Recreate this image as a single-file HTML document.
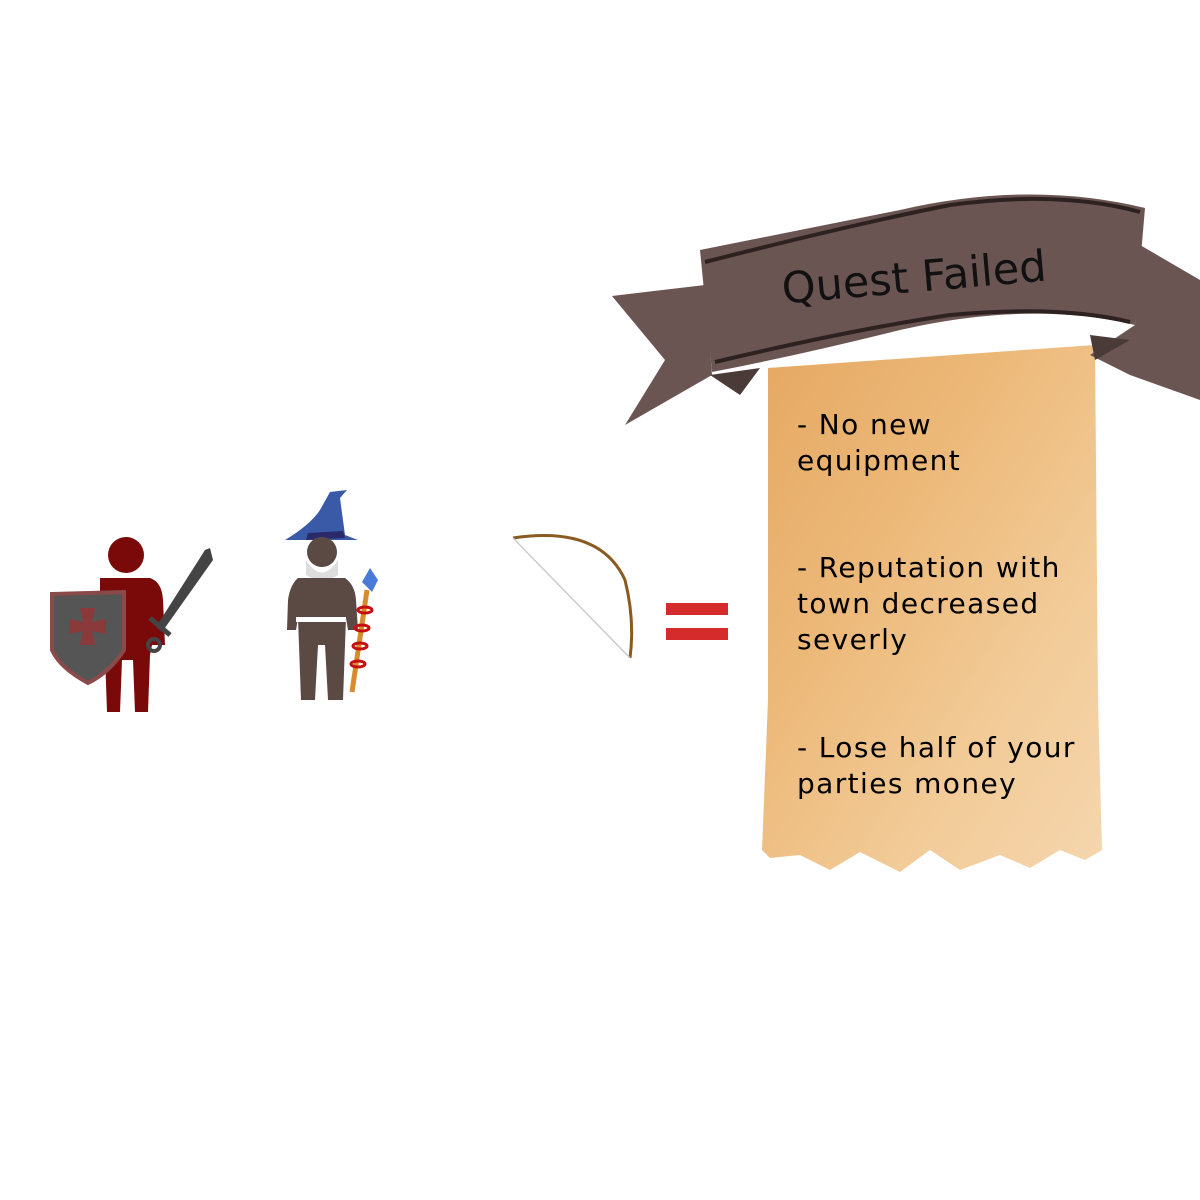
<!DOCTYPE html>
<html><head><meta charset="utf-8"><style>
html,body{margin:0;padding:0;background:#fff;width:1200px;height:1200px;overflow:hidden}
svg{position:absolute;left:0;top:0}
.t{font-family:"DejaVu Sans","Liberation Sans",sans-serif;font-size:28px;fill:#000;letter-spacing:1.4px}
</style></head><body>
<svg width="1200" height="1200" viewBox="0 0 1200 1200">
<defs>
<linearGradient id="sc" x1="0" y1="0" x2="1" y2="1">
<stop offset="0" stop-color="#e5a862"/><stop offset="0.35" stop-color="#ecb878"/><stop offset="0.7" stop-color="#f2cb98"/><stop offset="1" stop-color="#f5d6ae"/>
</linearGradient>
</defs>
<path d="M768 368 L1095 345 L1098 700 L1102 850 L1085 860 L1060 850 L1030 868 L1000 855 L960 870 L930 850 L900 872 L860 852 L830 870 L800 855 L770 858 L762 850 L768 700 Z" fill="url(#sc)"/>
<path d="M612 296 L705 285 L712 375 L625 425 L665 360 Z" fill="#6b5552"/>
<path d="M1140 245 L1200 280 L1200 400 L1130 375 L1090 355 L1135 325 Z" fill="#6b5552"/>
<path d="M710 375 L760 368 L740 395 Z" fill="#4a3a38"/>
<path d="M1090 335 L1130 340 L1095 360 Z" fill="#4a3a38"/>
<path d="M700 250 Q800 230 900 210 Q1030 180 1145 208 L1135 325 Q1030 300 900 330 Q800 355 712 372 Z" fill="#6b5552"/>
<path d="M705 262 Q850 225 950 205 Q1060 190 1140 212" fill="none" stroke="#2e2220" stroke-width="4"/>
<path d="M715 362 Q850 330 950 315 Q1060 305 1130 322" fill="none" stroke="#2e2220" stroke-width="4"/>
<text x="914" y="292" text-anchor="middle" transform="rotate(-5 914 277)" style="font-family:'DejaVu Sans','Liberation Sans',sans-serif;font-size:43px;fill:#111">Quest Failed</text>
<text class="t" x="797" y="434">- No new</text>
<text class="t" x="797" y="470">equipment</text>
<text class="t" x="797" y="577">- Reputation with</text>
<text class="t" x="797" y="613">town decreased</text>
<text class="t" x="797" y="649">severly</text>
<text class="t" x="797" y="757">- Lose half of your</text>
<text class="t" x="797" y="793">parties money</text>
<rect x="666" y="603" width="62" height="12" fill="#d52b2b"/>
<rect x="666" y="628" width="62" height="12" fill="#d52b2b"/>
<path d="M513 538 Q600 525 625 580 Q635 620 630 658" fill="none" stroke="#8a5a20" stroke-width="3"/>
<line x1="513" y1="538" x2="630" y2="658" stroke="#ccc" stroke-width="1.5"/>
<circle cx="126" cy="555" r="18" fill="#7a0a0a"/>
<path d="M100 578 L150 578 Q162 582 163 600 L165 645 L152 645 L150 655 L148 712 L135 712 L133 660 L122 660 L120 712 L107 712 L105 655 L100 600 Z" fill="#7a0a0a"/>
<path d="M52 594 L124 592 L124 650 Q110 672 88 683 Q60 668 52 650 Z" fill="#555" stroke="#8a4a4a" stroke-width="4"/>
<path d="M80 608 L95 608 L92 622 L106 619 L106 634 L92 631 L95 645 L80 645 L83 631 L69 634 L69 619 L83 622 Z" fill="#8a3a3a"/>
<path d="M210 548 L213 560 L162 632 L156 627 L205 550 Z" fill="#444"/>
<line x1="150" y1="618" x2="170" y2="635" stroke="#444" stroke-width="5"/>
<circle cx="154" cy="645" r="6" fill="none" stroke="#444" stroke-width="4"/>
<path d="M285 540 Q310 525 320 510 L330 492 L347 490 L340 498 L345 535 L358 540 Z" fill="#3a5aa8"/>
<path d="M308 533 L343 531 L345 538 L306 540 Z" fill="#2a2a6a"/>
<circle cx="322" cy="552" r="15" fill="#5b4a44"/>
<path d="M306 560 Q322 585 338 560 L338 575 Q322 585 306 575 Z" fill="#ddd"/>
<path d="M298 578 L345 578 Q355 585 356 600 L358 630 L348 630 L346 618 L343 700 L328 700 L325 645 L318 645 L315 700 L301 700 L298 618 L296 630 L287 630 L288 600 Q290 585 298 578 Z" fill="#5b4a44"/>
<rect x="296" y="617" width="50" height="5" fill="#fff"/>
<line x1="367" y1="590" x2="352" y2="692" stroke="#d98a2a" stroke-width="5"/>
<path d="M370 568 L378 580 L372 592 L362 582 Z" fill="#4a7ad8"/>
<g fill="none" stroke="#c41010" stroke-width="3"><ellipse cx="365" cy="610" rx="7" ry="3"/><ellipse cx="362" cy="628" rx="7" ry="3"/><ellipse cx="360" cy="646" rx="7" ry="3"/><ellipse cx="358" cy="664" rx="7" ry="3"/></g>
</svg>
</body></html>
